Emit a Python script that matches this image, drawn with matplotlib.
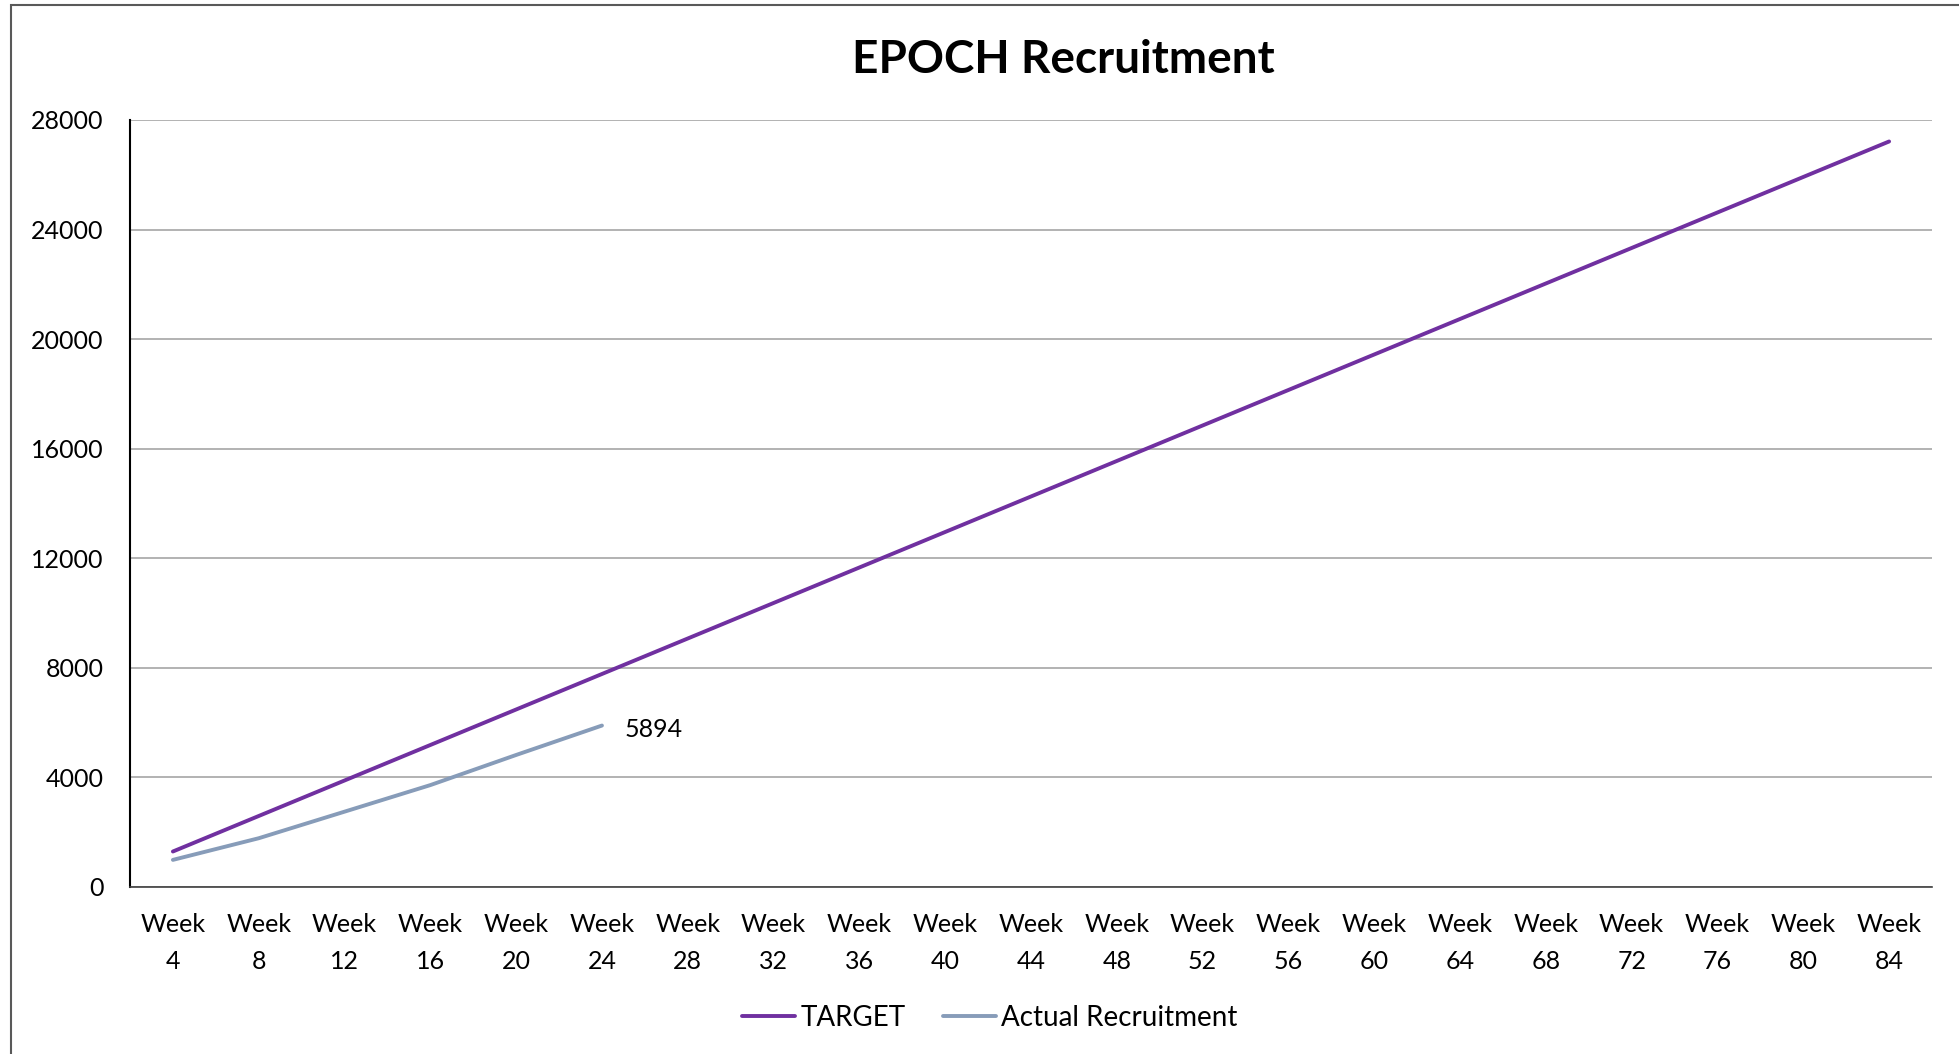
import matplotlib.pyplot as plt
from matplotlib.patches import Rectangle

plt.rcParams['font.family'] = ['Lato', 'DejaVu Sans']

weeks = [4, 8, 12, 16, 20, 24, 28, 32, 36, 40, 44, 48, 52, 56, 60, 64, 68, 72, 76, 80, 84]
week_labels = [f'Week\n{w}' for w in weeks]
target = [1296, 2592, 3888, 5184, 6480, 7776, 9072, 10368, 11664, 12960, 14256,
          15552, 16848, 18144, 19440, 20736, 22032, 23328, 24624, 25920, 27216]
actual = [990, 1780, 2750, 3720, 4820, 5894]
y_ticks = [0, 4000, 8000, 12000, 16000, 20000, 24000, 28000]

fig = plt.figure(figsize=(19.59, 10.54), dpi=100)
ax = fig.add_axes([130 / 1959, 1 - 887 / 1054, (1932 - 130) / 1959, (887 - 120) / 1054])

x = list(range(len(weeks)))
ax.plot(x, target, color='#7030A0', lw=2.8, solid_capstyle='round', label='TARGET')
ax.plot(x[:len(actual)], actual, color='#879CB9', lw=2.8, solid_capstyle='round',
        label='Actual Recruitment')

ax.annotate(str(actual[-1]), (x[len(actual) - 1], actual[-1]), xytext=(16, -3),
            textcoords='offset points', ha='left', va='center', fontsize=18)

ax.set_xlim(-0.5, len(weeks) - 0.5)
ax.set_ylim(0, 28000)
ax.set_xticks(x)
ax.set_xticklabels(week_labels, linespacing=1.7)
ax.set_yticks(y_ticks)
ax.tick_params(axis='both', length=0, labelsize=18)
ax.tick_params(axis='x', pad=19)
ax.tick_params(axis='y', pad=19)
ax.grid(axis='y', color='#A6A6A6', lw=1.2)
ax.set_axisbelow(True)
for s in ['top', 'right']:
    ax.spines[s].set_visible(False)
ax.spines['left'].set_color('#000000')
ax.spines['left'].set_linewidth(1.5)
ax.spines['bottom'].set_color('#404040')
ax.spines['bottom'].set_linewidth(1.2)

fig.text(1063 / 1959, 1 - 60 / 1054, 'EPOCH Recruitment', ha='center', va='center',
         fontsize=33, fontweight='bold')

fig.legend(loc='center', bbox_to_anchor=(990 / 1959, 1 - 1018 / 1054), ncol=2,
           frameon=False, fontsize=20, handlelength=1.9, handletextpad=0.2,
           columnspacing=1.33)

fig.patches.append(Rectangle((11 / 1959, -0.1), 1.2, 1.1 - 5 / 1054,
                             transform=fig.transFigure, fill=False,
                             edgecolor='#595959', lw=1.5))

fig.savefig('out.png', dpi=100)
